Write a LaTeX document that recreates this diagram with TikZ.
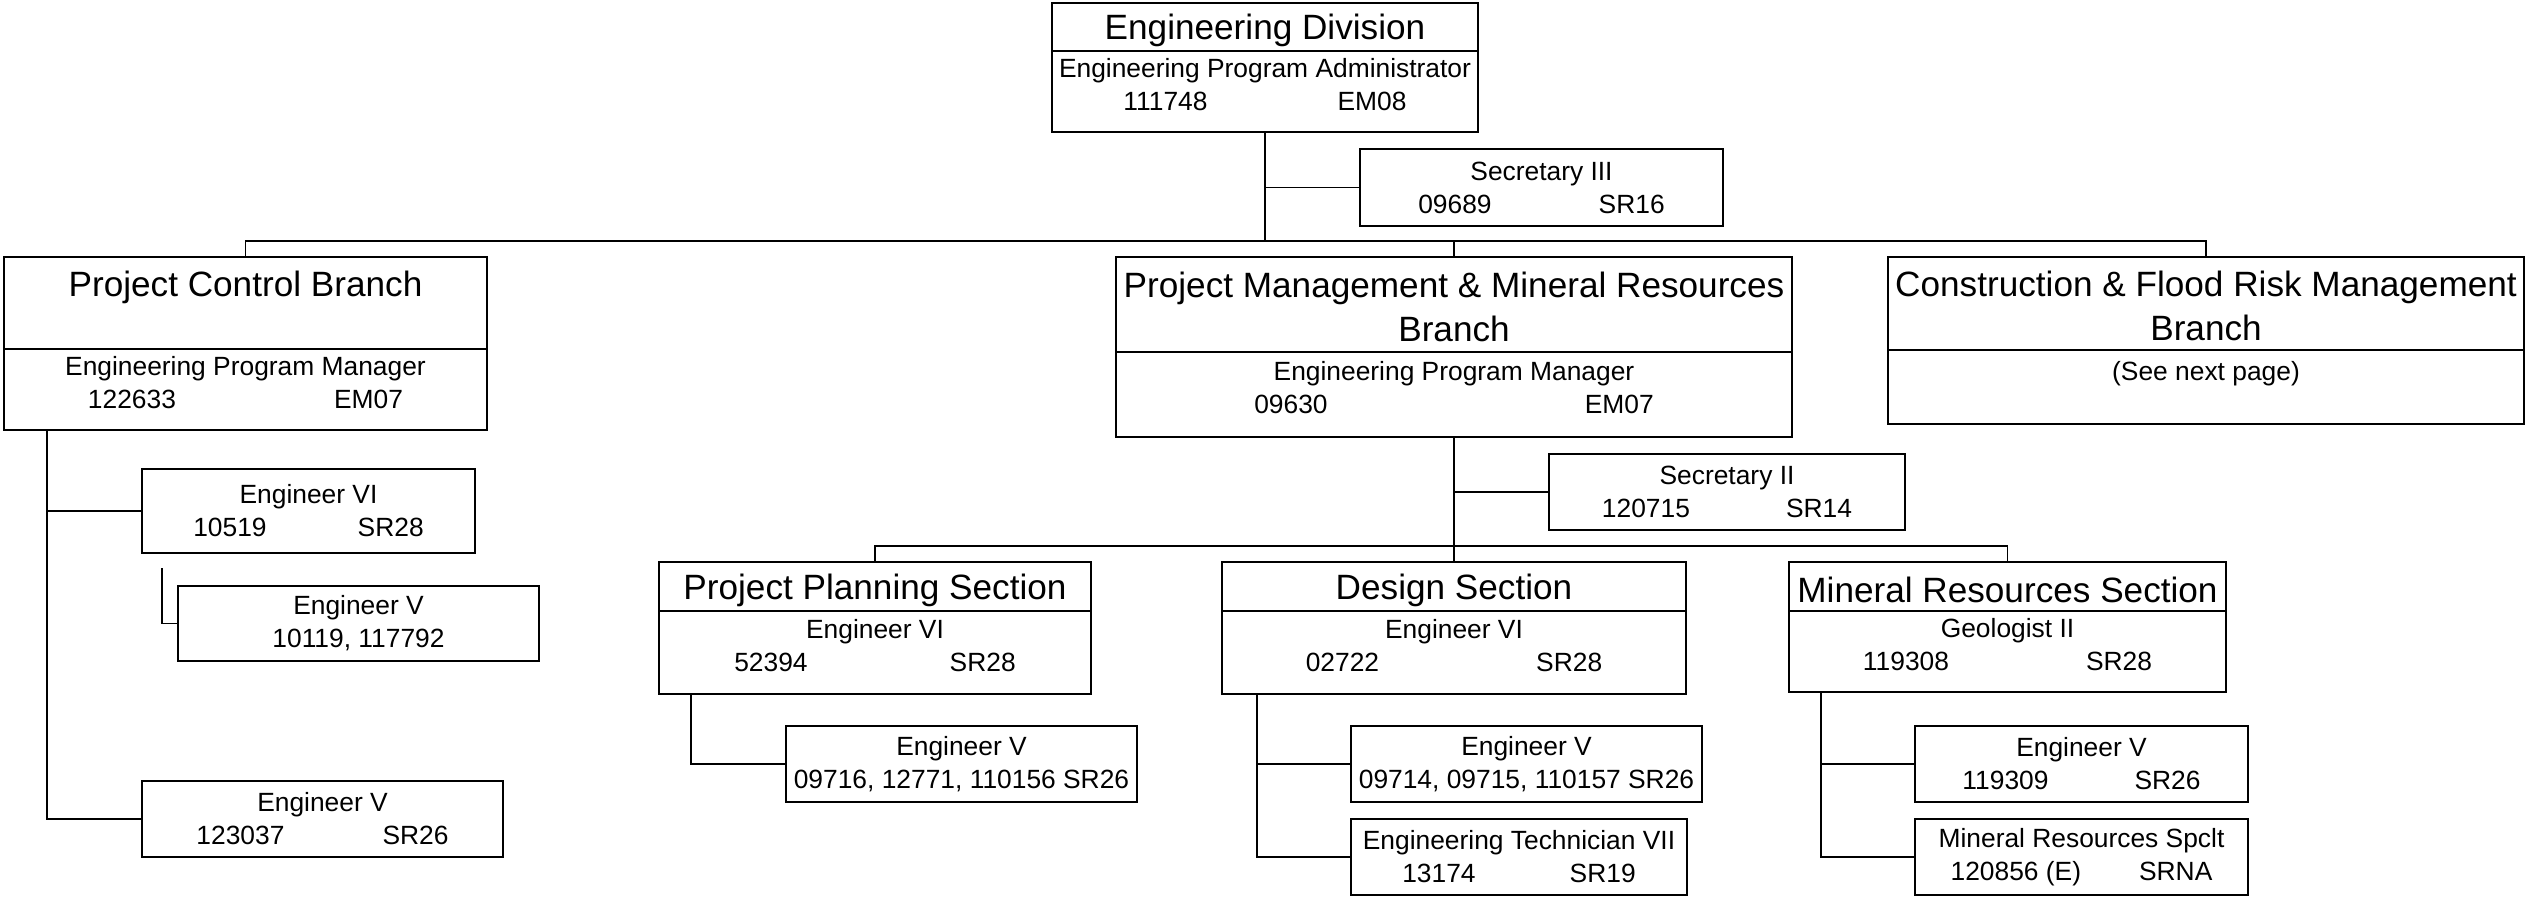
\documentclass[tikz,border=0pt]{standalone}
\usepackage{fontspec}
\setmainfont{Liberation Sans}
\usetikzlibrary{positioning,calc}
\tikzset{
  wire/.style={line width=0.45pt},
  % the header of a unit: its name in the large font
  head/.style 2 args={rectangle,draw,line width=0.6pt,inner sep=1pt,outer sep=0pt,align=center,
              font=\fontsize{10}{12.4}\selectfont,minimum width=#1cm,minimum height=#2cm},
  headone/.style 2 args={head={#1}{#2},text height=0.33cm},
  headtwo/.style 2 args={head={#1}{#2},text height=0.74cm},
  % the lower part of a unit, and the small position boxes
  body/.style 2 args={rectangle,draw,line width=0.6pt,inner sep=1pt,outer sep=0pt,align=center,
              font=\fontsize{7.5}{9.4}\selectfont,minimum width=#1cm,minimum height=#2cm},
  lower/.style 2 args={body={#1}{#2},text depth=0.14cm},
}

\begin{document}
\begin{tikzpicture}[x=0.01cm,y=-0.01cm]
  \useasboundingbox (0,0) rectangle (2526,899);
  % division and its secretary
  \node[headone={4.26}{0.48}] (divT) at (1265,27) {Engineering Division};
  \node[lower={4.26}{0.81}] (divB) at (1265,91.5) {Engineering Program Administrator\\111748\hspace{1.30cm}EM08};
  \node[body={3.63}{0.77}] (sec3) at (1541.5,187.5) {Secretary III\\09689\hspace{1.07cm}SR16};
  % the three branches
  \node[headtwo={4.83}{0.92}] (pcbT) at (245.5,303) {Project Control Branch\\~};
  \node[lower={4.83}{0.81}] (pcbB) at (245.5,389.5) {Engineering Program Manager\\122633\hspace{1.58cm}EM07};
  \node[headtwo={6.76}{0.95}] (pmmrT) at (1454,304.5) {Project Management \& Mineral Resources\\Branch};
  \node[lower={6.76}{0.85}] (pmmrB) at (1454,394.5) {Engineering Program Manager\\09630\hspace{2.57cm}EM07};
  \node[headtwo={6.36}{0.93}] (cfrmT) at (2206,303.5) {Construction \& Flood Risk Management\\Branch};
  \node[body={6.36}{0.74}] (cfrmB) at (2206,387) {(See next page)\\~};
  % positions under the project control branch
  \node[body={3.33}{0.84}] (engSixA) at (308.5,511) {Engineer VI\\10519\hspace{0.91cm}SR28};
  \node[body={3.61}{0.75}] (engFiveA) at (358.5,623.5) {Engineer V\\10119, 117792};
  \node[body={3.61}{0.76}] (engFiveB) at (322.5,819) {Engineer V\\123037\hspace{0.98cm}SR26};
  % sections of the project management branch
  \node[body={3.56}{0.76}] (sec2) at (1727,492) {Secretary II\\120715\hspace{0.96cm}SR14};
  \node[headone={4.32}{0.49}] (ppsT) at (875,586.5) {Project Planning Section};
  \node[lower={4.32}{0.83}] (ppsB) at (875,652.5) {Engineer VI\\52394\hspace{1.42cm}SR28};
  \node[headone={4.63}{0.49}] (dsnT) at (1454,586.5) {Design Section};
  \node[lower={4.63}{0.83}] (dsnB) at (1454,652.5) {Engineer VI\\02722\hspace{1.57cm}SR28};
  \node[headone={4.37}{0.49}] (mrsT) at (2007.5,586.5) {Mineral Resources Section};
  \node[lower={4.37}{0.81}] (mrsB) at (2007.5,651.5) {Geologist II\\119308\hspace{1.37cm}SR28};
  \node[body={3.51}{0.76}] (engFiveC) at (961.5,764) {Engineer V\\09716, 12771, 110156 SR26};
  \node[body={3.51}{0.76}] (engFiveD) at (1526.5,764) {Engineer V\\09714, 09715, 110157 SR26};
  \node[body={3.36}{0.76}] (tech) at (1519,857) {Engineering Technician VII\\13174\hspace{0.94cm}SR19};
  \node[body={3.33}{0.76}] (engFiveE) at (2081.5,764) {Engineer V\\119309\hspace{0.86cm}SR26};
  \node[body={3.33}{0.76}] (spclt) at (2081.5,857) {Mineral Resources Spclt\\120856 (E)\hspace{0.58cm}SRNA};
  % connectors
  \coordinate (bus) at (1265,241);
  \draw[wire] (divB.south) -- (bus);
  \draw[wire] (divB.south |- sec3.west) -- (sec3.west);
  \draw[wire] (pcbT.north) |- (bus) -| (cfrmT.north);
  \draw[wire] (bus -| pmmrT.north) -- (pmmrT.north);
  \coordinate (pcbStem) at (47,430);
  \draw[wire] (pcbStem) |- (engFiveB.west);
  \draw[wire] (pcbStem |- engSixA.west) -- (engSixA.west);
  \coordinate (engFiveTip) at (162,568);
  \draw[wire] (engFiveTip) |- (engFiveA.west);
  \draw[wire] (pmmrB.south) -- (dsnT.north);
  \draw[wire] (pmmrB.south |- sec2.west) -- (sec2.west);
  \coordinate (sbus) at (1454,546);
  \draw[wire] (ppsT.north) |- (sbus) -| (mrsT.north);
  \coordinate (ppsStem) at (691,694);
  \draw[wire] (ppsStem) |- (engFiveC.west);
  \coordinate (dsnStem) at (1257,694);
  \draw[wire] (dsnStem) |- (tech.west);
  \draw[wire] (dsnStem |- engFiveD.west) -- (engFiveD.west);
  \coordinate (mrsStem) at (1821,692);
  \draw[wire] (mrsStem) |- (spclt.west);
  \draw[wire] (mrsStem |- engFiveE.west) -- (engFiveE.west);
\end{tikzpicture}
\end{document}
